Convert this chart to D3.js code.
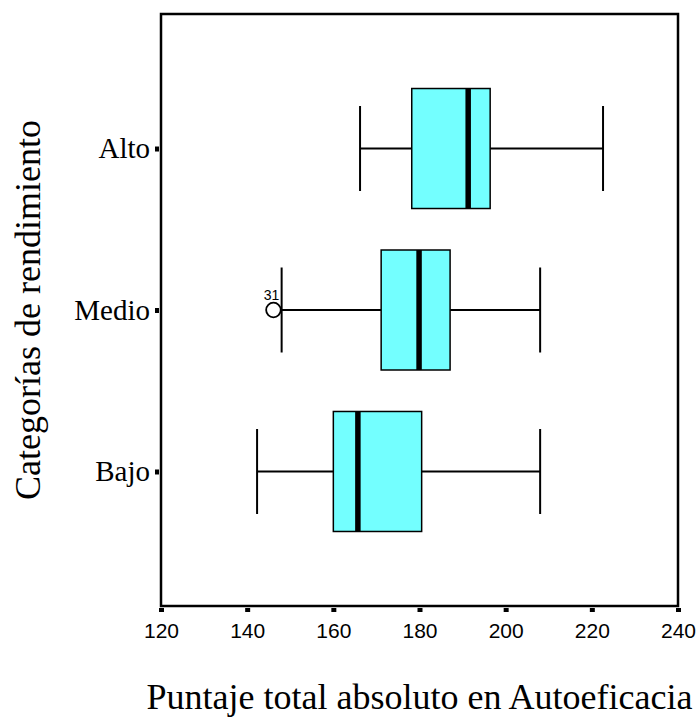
<!DOCTYPE html>
<html>
<head>
<meta charset="utf-8">
<script src="https://cdn.jsdelivr.net/npm/d3@7"></script>
<style>
  body { margin: 0; background: #fff; }
  svg { display: block; }
</style>
</head>
<body>
<script>
// box plot values
const categories = ["Alto", "Medio", "Bajo"];
const q1 = [178.2, 171.1, 160.0];
const medians = [191.3, 179.9, 165.7];
const q3 = [196.4, 187.1, 180.5];
const whiskerLow = [166.2, 148.0, 142.3];
const whiskerHigh = [222.6, 208.0, 208.0];
const outliers = [{ cat: "Medio", value: 146.1, label: "31" }];
const xTicks = [120, 140, 160, 180, 200, 220, 240];

const width = 696, height = 720;
const plotL = 161, plotR = 678, plotT = 14, plotB = 606;

let svg = d3.select("body").append("svg")
  .attr("width", width)
  .attr("height", height);

let x = d3.scaleLinear().domain([120, 240]).range([plotL, plotR]);
let y = d3.scalePoint().domain(categories).range([plotT, plotB]).padding(0.833);

let boxH = 120, capH = 85;

let rows = categories.map((c, i) => ({
  cat: c, q1: q1[i], med: medians[i], q3: q3[i], lo: whiskerLow[i], hi: whiskerHigh[i]
}));

// frame
svg.append("rect")
  .attr("x", plotL).attr("y", plotT)
  .attr("width", plotR - plotL).attr("height", plotB - plotT)
  .attr("fill", "none").attr("stroke", "#000").attr("stroke-width", 2.5);

// x axis: short thick ticks below the frame
let xAxis = svg.append("g")
  .attr("transform", "translate(0," + (plotB + 2) + ")")
  .call(d3.axisBottom(x).tickValues(xTicks).tickSize(4).tickPadding(11).tickFormat(d3.format("d")));
xAxis.select(".domain").remove();
xAxis.selectAll(".tick line").attr("stroke", "#000").attr("stroke-width", 5);
xAxis.selectAll(".tick text")
  .attr("font-family", "'Liberation Sans', Arial, sans-serif")
  .attr("font-size", 21).attr("fill", "#000");

// y axis
let yAxis = svg.append("g")
  .attr("transform", "translate(" + (plotL - 2) + ",0)")
  .call(d3.axisLeft(y).tickSize(4).tickPadding(5));
yAxis.select(".domain").remove();
yAxis.selectAll(".tick line").attr("stroke", "#000").attr("stroke-width", 5);
yAxis.selectAll(".tick text")
  .attr("font-family", "'Liberation Serif', 'Times New Roman', serif")
  .attr("font-size", 29).attr("fill", "#000");

let g = svg.append("g");

// whiskers
g.selectAll("line.whisk-lo").data(rows).enter().append("line")
  .attr("x1", d => x(d.lo)).attr("x2", d => x(d.q1))
  .attr("y1", d => y(d.cat)).attr("y2", d => y(d.cat))
  .attr("stroke", "#000").attr("stroke-width", 2);
g.selectAll("line.whisk-hi").data(rows).enter().append("line")
  .attr("x1", d => x(d.q3)).attr("x2", d => x(d.hi))
  .attr("y1", d => y(d.cat)).attr("y2", d => y(d.cat))
  .attr("stroke", "#000").attr("stroke-width", 2);

// caps
["lo", "hi"].forEach(k => {
  g.selectAll("line.cap-" + k).data(rows).enter().append("line")
    .attr("x1", d => x(d[k])).attr("x2", d => x(d[k]))
    .attr("y1", d => y(d.cat) - capH / 2).attr("y2", d => y(d.cat) + capH / 2)
    .attr("stroke", "#000").attr("stroke-width", 2);
});

// boxes
g.selectAll("rect.box").data(rows).enter().append("rect")
  .attr("x", d => x(d.q1)).attr("width", d => x(d.q3) - x(d.q1))
  .attr("y", d => y(d.cat) - boxH / 2).attr("height", boxH)
  .attr("fill", "#73ffff").attr("stroke", "#000").attr("stroke-width", 1.5);

// medians
g.selectAll("line.med").data(rows).enter().append("line")
  .attr("x1", d => x(d.med)).attr("x2", d => x(d.med))
  .attr("y1", d => y(d.cat) - boxH / 2).attr("y2", d => y(d.cat) + boxH / 2)
  .attr("stroke", "#000").attr("stroke-width", 5.5);

// outliers
g.selectAll("circle.out").data(outliers).enter().append("circle")
  .attr("cx", d => x(d.value)).attr("cy", d => y(d.cat)).attr("r", 7.3)
  .attr("fill", "#fff").attr("stroke", "#000").attr("stroke-width", 1.8);
g.selectAll("text.out").data(outliers).enter().append("text")
  .attr("x", d => x(d.value) - 2).attr("y", d => y(d.cat) - 10)
  .attr("text-anchor", "middle")
  .attr("font-family", "'Liberation Sans', Arial, sans-serif")
  .attr("font-size", 14)
  .text(d => d.label);

// axis titles
svg.append("text")
  .attr("x", (plotL + plotR) / 2).attr("y", 709)
  .attr("text-anchor", "middle")
  .attr("font-family", "'Liberation Serif', 'Times New Roman', serif")
  .attr("font-size", 36)
  .text("Puntaje total absoluto en Autoeficacia");

svg.append("text")
  .attr("transform", "translate(40," + ((plotT + plotB) / 2) + ") rotate(-90)")
  .attr("text-anchor", "middle")
  .attr("font-family", "'Liberation Serif', 'Times New Roman', serif")
  .attr("font-size", 36)
  .text("Categorías de rendimiento");
</script>
</body>
</html>
